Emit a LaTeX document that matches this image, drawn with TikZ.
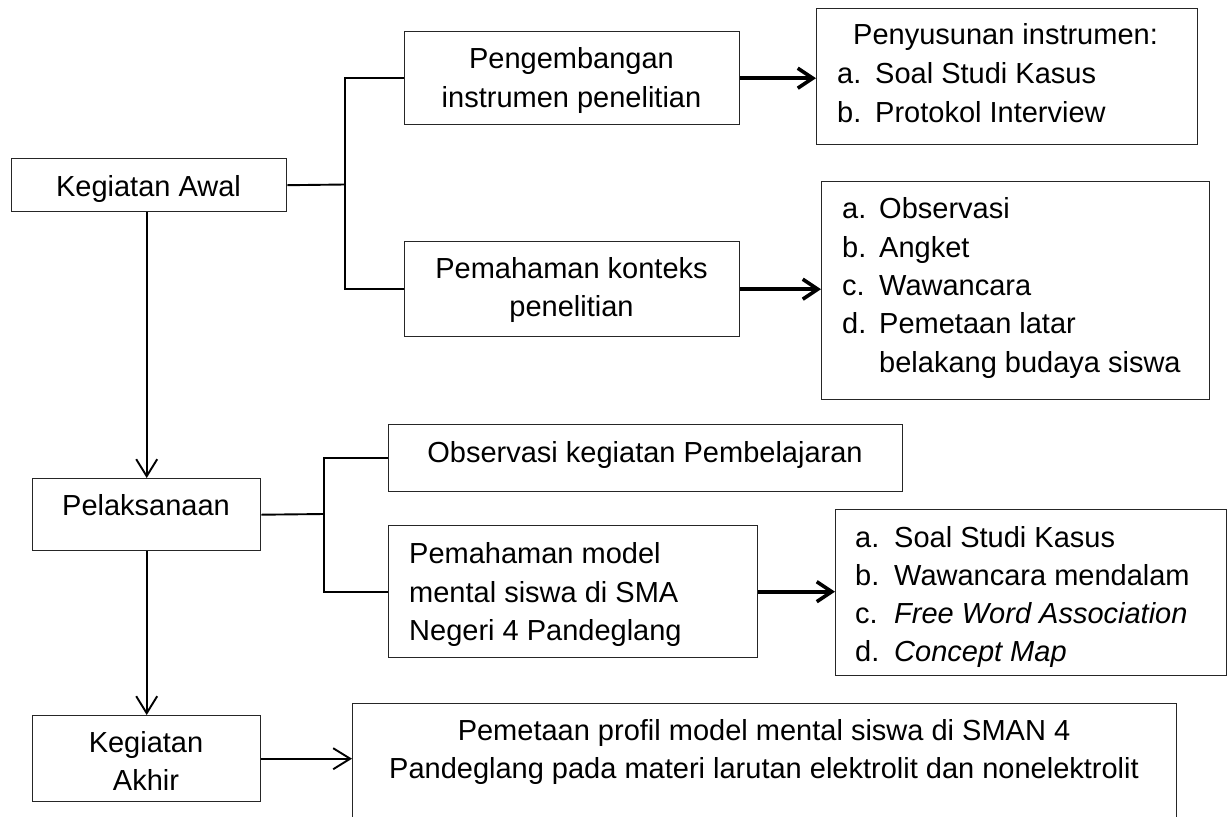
\documentclass[tikz,border=0pt]{standalone}
\usepackage{fontspec}
\setmainfont{Liberation Sans}
\usetikzlibrary{arrows.meta}
\tikzset{
  box/.style={draw=black!85, line width=1.4pt, rectangle, inner sep=0pt, anchor=north west},
  txt/.style={inner sep=0pt, font=\fontsize{29}{38.5}\selectfont},
  conn/.style={draw=black, line width=1.9pt},
  thinarrow/.style={conn, -{Straight Barb[length=17pt,width=21pt,line width=1.9pt]}},
  thickarrow/.style={draw=black, line width=3.6pt, -{Straight Barb[length=15pt,width=20pt,line width=3.6pt]}}
}
\newcommand{\boxat}[5]{\node[box, minimum width=#4-#2, minimum height=#5-#3] (#1) at (#2,#3) {};}
\begin{document}
\begin{tikzpicture}[x=1pt,y=-1pt]
\clip (0,0) rectangle (1230,816);
\useasboundingbox (0,0) rectangle (1230,816);
% boxes
\node[box, minimum width=275pt, minimum height=53pt] (KA) at (11,158) {};
\node[box, minimum width=335pt, minimum height=93pt] (PIP) at (404,31) {};
\node[box, minimum width=381pt, minimum height=136pt] (PI) at (816,8) {};
\node[box, minimum width=335pt, minimum height=95pt] (PKP) at (404,241) {};
\node[box, minimum width=388pt, minimum height=218pt] (L2) at (821,181) {};
\node[box, minimum width=228pt, minimum height=72pt] (PEL) at (32,478) {};
\node[box, minimum width=514pt, minimum height=67pt] (OKP) at (388,424) {};
\node[box, minimum width=369pt, minimum height=132pt] (PMM) at (388,525) {};
\node[box, minimum width=391pt, minimum height=166pt] (L3) at (835,509) {};
\node[box, minimum width=228pt, minimum height=86pt] (KAK) at (32,715) {};
\node[box, minimum width=824pt, minimum height=140pt] (FIN) at (352,703) {};
% texts
\node[txt, anchor=base] at (148.5,196) {Kegiatan Awal};
\node[txt, anchor=base] at (571.5,68) {Pengembangan};
\node[txt, anchor=base] at (571.5,107) {instrumen penelitian};
\node[txt, anchor=base west] at (853,45) {Penyusunan instrumen:};
\node[txt, anchor=base west] at (837,83) {a.};
\node[txt, anchor=base west] at (875,83) {Soal Studi Kasus};
\node[txt, anchor=base west] at (837,122) {b.};
\node[txt, anchor=base west] at (875,122) {Protokol Interview};
\node[txt, anchor=base] at (571.5,278) {Pemahaman konteks};
\node[txt, anchor=base] at (571.5,316) {penelitian};
\node[txt, anchor=base west] at (842,218) {a.};
\node[txt, anchor=base west] at (879,218) {Observasi};
\node[txt, anchor=base west] at (842,257) {b.};
\node[txt, anchor=base west] at (879,257) {Angket};
\node[txt, anchor=base west] at (842,295) {c.};
\node[txt, anchor=base west] at (879,295) {Wawancara};
\node[txt, anchor=base west] at (842,333) {d.};
\node[txt, anchor=base west] at (879,333) {Pemetaan latar};
\node[txt, anchor=base west] at (879,372) {belakang budaya siswa};
\node[txt, anchor=base] at (146,515) {Pelaksanaan};
\node[txt, anchor=base] at (645,462) {Observasi kegiatan Pembelajaran};
\node[txt, anchor=base west] at (409,563) {Pemahaman model};
\node[txt, anchor=base west] at (409,602) {mental siswa di SMA};
\node[txt, anchor=base west] at (409,640) {Negeri 4 Pandeglang};
\node[txt, anchor=base west] at (855,547) {a.};
\node[txt, anchor=base west] at (894,547) {Soal Studi Kasus};
\node[txt, anchor=base west] at (855,585) {b.};
\node[txt, anchor=base west] at (894,585) {Wawancara mendalam};
\node[txt, anchor=base west] at (855,623) {c.};
\node[txt, anchor=base west] at (894,623) {\itshape Free Word Association};
\node[txt, anchor=base west] at (855,661) {d.};
\node[txt, anchor=base west] at (894,661) {\itshape Concept Map};
\node[txt, anchor=base] at (146,752) {Kegiatan};
\node[txt, anchor=base] at (146,790) {Akhir};
\node[txt, anchor=base] at (764,740) {Pemetaan profil model mental siswa di SMAN 4};
\node[txt, anchor=base] at (764,778) {Pandeglang pada materi larutan elektrolit dan nonelektrolit};
% connectors
\coordinate (jA) at (345,184.5);
\coordinate (jB) at (324,514);
\draw[conn] (KA.east) -- (jA);
\draw[conn] (PIP.west) -| (jA) |- (PKP.west);
\draw[thickarrow] (PIP.east) -- (PIP.east -| PI.west);
\draw[thickarrow] (PKP.east) -- (PKP.east -| L2.west);
\draw[thinarrow] (PEL.north |- KA.south) -- (PEL.north);
\draw[conn] (PEL.east) -- (jB);
\draw[conn] (OKP.west) -| (jB) |- (PMM.west);
\draw[thickarrow] (PMM.east) -- (PMM.east -| L3.west);
\draw[thinarrow] (PEL.south) -- (KAK.north);
\draw[thinarrow] (KAK.east) -- (KAK.east -| FIN.west);
\end{tikzpicture}
\end{document}
